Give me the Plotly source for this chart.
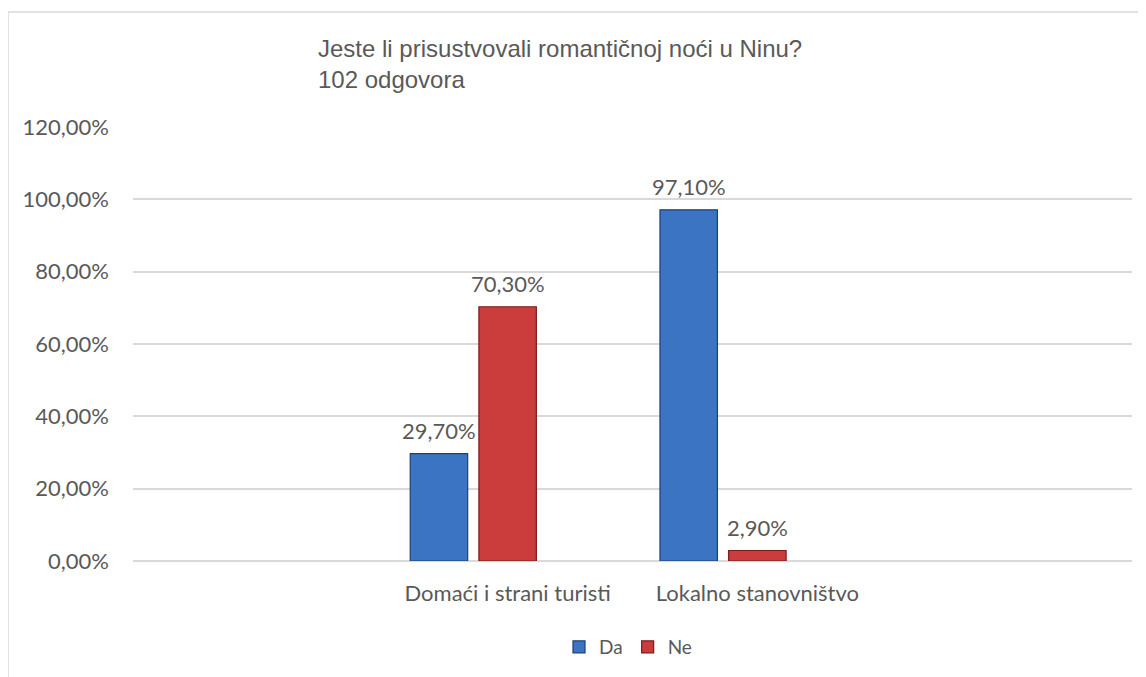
import plotly.graph_objects as go

categories = ["Domaći i strani turisti", "Lokalno stanovništvo"]
series_names = ["Da", "Ne"]
da_values = [0.297, 0.971]
ne_values = [0.703, 0.029]
title_lines = ["Jeste li prisustvovali romantičnoj noći u Ninu?", "102 odgovora"]
y_ticks = [0, 0.2, 0.4, 0.6, 0.8, 1.0, 1.2]

def pct(v):
    return f"{v*100:.2f}%".replace(".", ",")

W, H = 1146, 677
OFF = 8  # page body margin
L, R, T, B = 125, 22, 119, 124
PW, PH = W - L - R, H - T - B
FONT = "Lato"
GRAY = "#595959"
GRID = "#d9d9d9"

def fx(p):  # page pixel x -> paper
    return (p - OFF - L) / PW

def fy(p):  # page pixel y -> paper
    return 1 - (p - OFF - T) / PH

series = [
    (series_names[0], da_values, "#3b74c2", "#1d3f75", -0.39, 0.23),
    (series_names[1], ne_values, "#cb3d3d", "#7a1b1b", -0.115, 0.23),
]

fig = go.Figure()
annotations = []
for name, vals, col, edge, off, wid in series:
    fig.add_trace(go.Bar(
        x=categories, y=vals, name=name,
        offset=off, width=wid,
        marker=dict(color=col, line=dict(color=edge, width=1.2)),
        hoverinfo="skip",
    ))
    for i, v in enumerate(vals):
        annotations.append(dict(
            x=i + off + wid / 2, y=v, xref="x", yref="y",
            text=pct(v), showarrow=False, yanchor="bottom", yshift=8,
            font=dict(family=FONT, size=22, color=GRAY),
        ))

annotations.append(dict(
    x=fx(316), y=fy(33), xref="paper", yref="paper",
    xanchor="left", yanchor="top", align="left", showarrow=False,
    text="<br>".join(title_lines),
    font=dict(family="Liberation Sans, Arial", size=24, color=GRAY),
))

shapes = [
    dict(type="line", xref="paper", yref="paper",
         x0=fx(8), x1=fx(W + 20), y0=fy(12), y1=fy(12),
         line=dict(color=GRID, width=1.5)),
    dict(type="line", xref="paper", yref="paper",
         x0=fx(8), x1=fx(8), y0=fy(12), y1=fy(H + 20),
         line=dict(color=GRID, width=1.5)),
]

fig.update_layout(
    width=W, height=H,
    margin=dict(l=L, r=R, t=T, b=B, pad=0),
    paper_bgcolor="white", plot_bgcolor="white",
    barmode="group",
    showlegend=True,
    legend=dict(orientation="h", x=fx(628), xanchor="center",
                y=fy(647), yanchor="middle",
                font=dict(family=FONT, size=19, color=GRAY),
                itemwidth=30, tracegroupgap=0),
    xaxis=dict(type="category", range=[-1.5, 2.5], showgrid=False,
               showline=False, ticks="", zeroline=False,
               tickfont=dict(family=FONT, size=22, color=GRAY),
               ticklabelstandoff=17),
    yaxis=dict(range=[0, 1.2], tickvals=y_ticks,
               ticktext=[pct(v) for v in y_ticks],
               showgrid=True, gridcolor=GRID, gridwidth=1.5,
               zeroline=True, zerolinecolor=GRID, zerolinewidth=1.5,
               showline=False, ticks="",
               tickfont=dict(family=FONT, size=22, color=GRAY),
               ticklabelstandoff=23),
    annotations=annotations,
    shapes=shapes,
)

fig.write_html("out.html")
